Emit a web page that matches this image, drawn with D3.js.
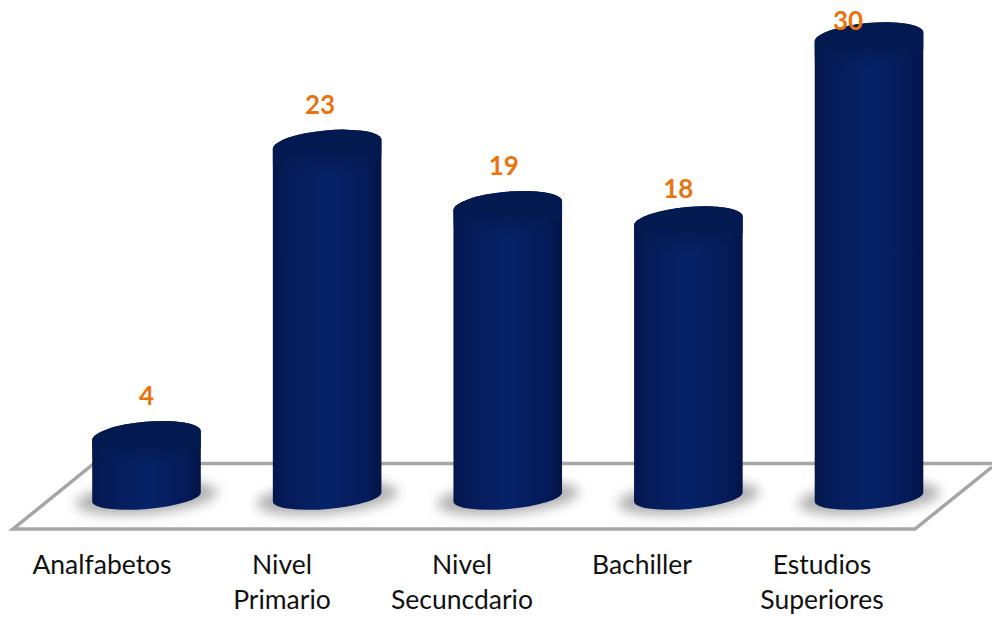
<!DOCTYPE html>
<html>
<head>
<meta charset="utf-8">
<script src="https://cdn.jsdelivr.net/npm/d3@7"></script>
<style>
html, body { margin: 0; padding: 0; background: #fff; overflow: hidden; }
svg { display: block; }
text { font-family: Lato, "Open Sans", sans-serif; }
</style>
</head>
<body>
<script>
var categories = ["Analfabetos", "Nivel Primario", "Nivel Secuncdario", "Bachiller", "Estudios Superiores"];
var values = [4, 23, 19, 18, 30];
var categoryLines = [["Analfabetos"], ["Nivel", "Primario"], ["Nivel", "Secuncdario"], ["Bachiller"], ["Estudios", "Superiores"]];

// the value labels were hand placed in the original
var valueNudgeX = [0, -7, -4, -10, -21];
var valueNudgeY = [-31, -30, -31, -23, -7];

var width = 992, height = 617;
var rx = 54.5, ry = 14, ryBottom = 12, tilt = -5;

var svg = d3.select("body").append("svg")
	.attr("width", width)
	.attr("height", height);

var xScale = d3.scalePoint().domain(categories).range([146.5, 869]);
var yScale = d3.scaleLinear().domain([0, 30]).range([497, 37]);

var defs = svg.append("defs");

var bodyGrad = defs.append("linearGradient").attr("id", "bodyGrad");
[[0, "#04164c"], [0.12, "#051b58"], [0.5, "#062268"], [0.85, "#051b5a"], [1, "#031447"]].forEach(d => {
	bodyGrad.append("stop").attr("offset", d[0]).attr("stop-color", d[1]);
});

// the darker band just under the lid
var neckGrad = defs.append("linearGradient").attr("id", "neckGrad").attr("x1", 0).attr("x2", 0).attr("y1", 0).attr("y2", 1);
neckGrad.append("stop").attr("offset", 0).attr("stop-color", "#031a50").attr("stop-opacity", 1);
neckGrad.append("stop").attr("offset", 0.5).attr("stop-color", "#031a50").attr("stop-opacity", 1);
neckGrad.append("stop").attr("offset", 1).attr("stop-color", "#031a50").attr("stop-opacity", 0);

defs.append("filter").attr("id", "blur").attr("x", "-30%").attr("y", "-60%").attr("width", "160%").attr("height", "220%")
	.append("feGaussianBlur").attr("stdDeviation", 6);

// floor
var floor = svg.append("g")
	.attr("fill", "none")
	.attr("stroke", "#a6a6a6")
	.attr("stroke-width", 3.5);

floor.append("path").attr("d", "M992,463.5 L94,463.5 L13,529 L915,529 L992,467");

var dx = rx*Math.cos(tilt*Math.PI/180);
var dy = rx*Math.sin(tilt*Math.PI/180);

var bars = svg.selectAll(".bar")
	.data(categories)
	.enter().append("g")
		.attr("class", "bar");

bars.append("ellipse")
	.attr("cx", d => xScale(d))
	.attr("cy", yScale(0) + 1)
	.attr("rx", 71)
	.attr("ry", 16)
	.attr("transform", d => "rotate(" + tilt + "," + xScale(d) + "," + yScale(0) + ")")
	.attr("fill", "#b0b0b0")
	.attr("filter", "url(#blur)");

var bodyPath = (d, i) => {
	var cx = xScale(d), yt = yScale(values[i]), yb = yScale(0);
	return "M" + (cx-dx) + "," + (yt-dy)
		+ " L" + (cx-dx) + "," + (yb-dy)
		+ " A" + rx + "," + ryBottom + "," + tilt + ",0,0," + (cx+dx) + "," + (yb+dy)
		+ " L" + (cx+dx) + "," + (yt+dy)
		+ " A" + rx + "," + ry + "," + tilt + ",0,0," + (cx-dx) + "," + (yt-dy) + "Z";
};

bars.append("path")
	.attr("d", bodyPath)
	.attr("fill", "url(#bodyGrad)");

// lid and neck shade share one colour, so the rim melts into the body
bars.append("path")
	.attr("d", (d, i) => {
		var cx = xScale(d), yt = yScale(values[i]), h = 16;
		return "M" + (cx-dx) + "," + (yt-dy)
			+ " L" + (cx-dx) + "," + (yt-dy+h)
			+ " A" + rx + "," + ry + "," + tilt + ",0,0," + (cx+dx) + "," + (yt+dy+h)
			+ " L" + (cx+dx) + "," + (yt+dy)
			+ " A" + rx + "," + ry + "," + tilt + ",0,0," + (cx-dx) + "," + (yt-dy) + "Z";
	})
	.attr("fill", "url(#neckGrad)");

// value labels
svg.selectAll(".value")
	.data(categories)
	.enter().append("text")
		.attr("class", "value")
		.attr("x", (d, i) => xScale(d) + valueNudgeX[i])
		.attr("y", (d, i) => yScale(values[i]) + valueNudgeY[i])
		.attr("text-anchor", "middle")
		.attr("font-size", 26)
		.attr("font-weight", 700)
		.attr("fill", "#e8740f")
		.text((d, i) => values[i]);

// category labels sit left of the bars
var labelScale = d3.scalePoint().domain(categories).range([102, 822]);

var labels = svg.selectAll(".cat")
	.data(categories)
	.enter().append("text")
		.attr("class", "cat")
		.attr("text-anchor", "middle")
		.attr("font-size", 26.5)
		.attr("fill", "#111");

labels.selectAll("tspan")
	.data((d, i) => categoryLines[i].map(t => ({t: t, cat: d})))
	.enter().append("tspan")
		.attr("x", d => labelScale(d.cat))
		.attr("y", (d, i) => 574 + i*35)
		.text(d => d.t);
</script>
</body>
</html>
